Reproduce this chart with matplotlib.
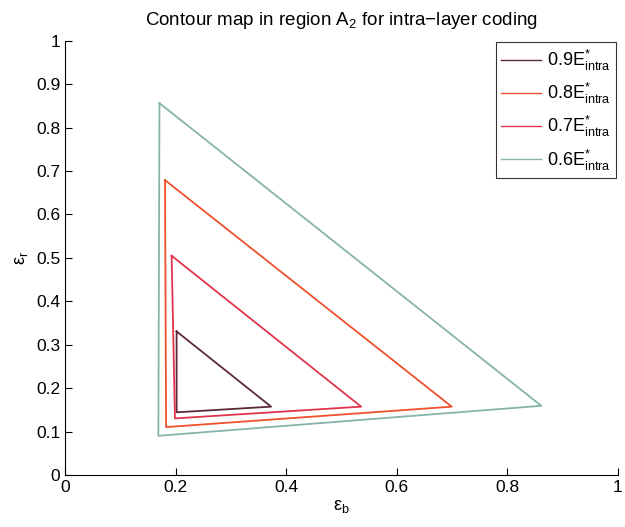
import matplotlib.pyplot as plt
from matplotlib.ticker import FuncFormatter

plt.rcParams['font.family'] = ['Liberation Sans', 'DejaVu Sans']
plt.rcParams['mathtext.fontset'] = 'custom'
plt.rcParams['mathtext.rm'] = 'Liberation Sans'
plt.rcParams['mathtext.it'] = 'Liberation Sans'

# contour levels (fraction of E*_intra) and their triangle vertices: top, bottom-left, right
levels = ["0.9", "0.8", "0.7", "0.6"]
eps_b = [
    [0.202, 0.202, 0.373],
    [0.181, 0.183, 0.700],
    [0.193, 0.199, 0.536],
    [0.171, 0.169, 0.862],
]
eps_r = [
    [0.331, 0.145, 0.158],
    [0.679, 0.111, 0.158],
    [0.505, 0.131, 0.158],
    [0.856, 0.091, 0.160],
]
colors = ["#5b2a36", "#f0502c", "#e0344c", "#86b4a6"]

fig = plt.figure(figsize=(6.25, 5.27), dpi=100)
ax = fig.add_axes([0.104, 0.098, 0.884, 0.825])

for lev, xs, ys, c in zip(levels, eps_b, eps_r, colors):
    ax.plot(xs + xs[:1], ys + ys[:1], color=c, lw=1.3,
            label=r"%sE$^{*}_{\mathrm{intra}}$" % lev)

ax.set_xlim(0, 1)
ax.set_ylim(0, 1)
ax.set_xticks([0, 0.2, 0.4, 0.6, 0.8, 1])
ax.set_yticks([i / 10 for i in range(11)])
fmt = FuncFormatter(lambda v, p: "%g" % round(v, 2))
ax.xaxis.set_major_formatter(fmt)
ax.yaxis.set_major_formatter(fmt)
ax.tick_params(direction="in", length=5, labelsize=12.5, width=0.8)
ax.spines["top"].set_visible(False)
ax.spines["right"].set_visible(False)

ax.set_xlabel(r"$\epsilon_\mathrm{b}$", fontsize=13, labelpad=2)
ax.set_ylabel(r"$\epsilon_\mathrm{r}$", fontsize=13, labelpad=4)
ax.set_title(r"Contour map in region A$_2$ for intra$-$layer coding", fontsize=13.5, pad=11)

leg = ax.legend(loc="upper right", fontsize=13, frameon=True, fancybox=False,
                edgecolor="black", handlelength=2.2, handletextpad=0.3,
                labelspacing=0.45, borderaxespad=0.1, borderpad=0.3)
leg.get_frame().set_linewidth(0.8)
for line in leg.get_lines():
    line.set_linewidth(1.0)

fig.savefig("out.png", dpi=100)
